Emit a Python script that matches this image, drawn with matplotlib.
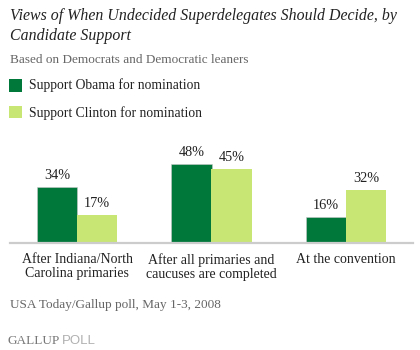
import matplotlib.pyplot as plt
import numpy as np
from matplotlib.patches import Rectangle

# data
categories = ['After Indiana/North\nCarolina primaries',
              'After all primaries and\ncaucuses are completed',
              'At the convention']
obama = [34, 48, 16]
clinton = [17, 45, 32]
series_names = ['Support Obama for nomination', 'Support Clinton for nomination']
colors = ['#00783A', '#C8E673']

W, H = 420, 350
plt.rcParams['font.family'] = ['Liberation Serif', 'DejaVu Serif']
fig = plt.figure(figsize=(W / 100, H / 100), dpi=100)


def fx(px):
    return px / W


def fy(py):
    return 1 - py / H


# title + subtitle
fig.text(fx(10), fy(20), 'Views of When Undecided Superdelegates Should Decide, by',
         fontsize=11.4, style='italic', color='#222222', va='baseline')
fig.text(fx(10), fy(40), 'Candidate Support',
         fontsize=11.4, style='italic', color='#222222', va='baseline')
fig.text(fx(10), fy(63), 'Based on Democrats and Democratic leaners',
         fontsize=9.5, color='#666666', va='baseline')

# legend
for i, (name, c) in enumerate(zip(series_names, colors)):
    top = 79 + i * 27
    fig.patches.append(Rectangle((fx(9), fy(top + 12.5)), fx(13), 12.5 / H,
                                 transform=fig.transFigure, facecolor=c,
                                 edgecolor='none'))
    fig.text(fx(29), fy(89.5 + i * 27), name, fontsize=9.8, color='#222222',
             va='baseline')

# bars
ax = fig.add_axes([fx(10), fy(243), fx(403), 100 / H])
x = np.arange(len(categories))
w = 0.298
b1 = ax.bar(x - w / 2, obama, w, color=colors[0], edgecolor='#c8c8c8', linewidth=0.4)
b2 = ax.bar(x + w / 2, clinton, w, color=colors[1], edgecolor='none')
for bars in (b1, b2):
    for bar in bars:
        h = bar.get_height()
        ax.annotate(f'{h:.0f}%', (bar.get_x() + bar.get_width() / 2, h),
                    xytext=(0, 3.5), textcoords='offset points',
                    ha='center', va='bottom', fontsize=10.3, color='#222222')

ax.set_xlim(-0.5, 2.5)
ax.set_ylim(0, 60.6)
ax.set_yticks([])
ax.set_xticks(x)
ax.set_xticklabels(categories, fontsize=10, color='#222222', linespacing=1.15)
ax.tick_params(axis='x', length=0, pad=7)
for s in ['top', 'right', 'left']:
    ax.spines[s].set_visible(False)
ax.spines['bottom'].set_color('#cccccc')
ax.spines['bottom'].set_linewidth(1.6)

# footer
fig.text(fx(10), fy(308), 'USA Today/Gallup poll, May 1-3, 2008',
         fontsize=9.5, color='#666666', va='baseline')
fig.text(fx(7), fy(344), 'GALLUP', fontsize=9.5, color='#777777', va='baseline',
         family=['Liberation Serif'])
fig.text(fx(62), fy(344), 'POLL', fontsize=9.5, color='#b0b0b0', va='baseline',
         family=['Liberation Sans'])

fig.savefig('out.png', dpi=100)
